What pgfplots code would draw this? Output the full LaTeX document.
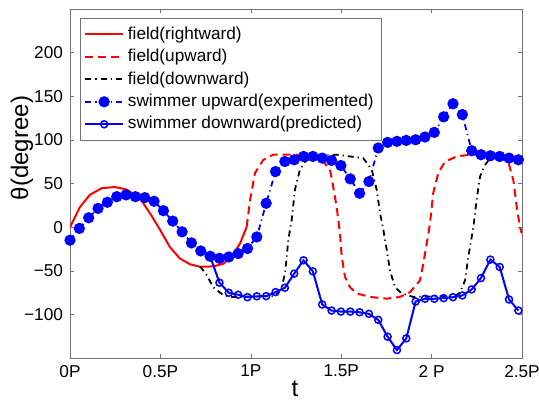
\documentclass[border=0pt]{standalone}
\usepackage{fontspec}
\setmainfont{Liberation Sans}
\usepackage{pgfplots}
\usepackage{pgfplotstable}
\pgfplotsset{compat=1.18}

% swimmer, experimented (upward field)
\pgfplotstableread{
t      v
0      -15
0.0517 -1.5
0.1033 10.7
0.155  21.5
0.2067 28.5
0.2583 34.9
0.31   36.9
0.3617 34.9
0.4133 33.8
0.465  29.6
0.5167 18.8
0.5683 6.9
0.62   -5.4
0.6717 -18.1
0.7233 -27.3
0.775  -33.4
0.8267 -35.7
0.8783 -34.2
0.93   -30.3
0.9817 -24.5
1.0333 -11.2
1.085  27.3
1.1367 63.7
1.1883 75.2
1.24   77.2
1.2917 81
1.3433 81
1.395  79.1
1.4467 76.4
1.4983 70.6
1.55   55.3
1.6017 38.8
1.6533 52.2
1.705  90.7
1.7567 97.1
1.8083 98.3
1.86   99.4
1.9117 100.1
1.9633 103.3
2.015  108.6
2.0667 126.4
2.1183 141.4
2.17   129
2.2217 87.6
2.2733 83
2.325  81.8
2.3767 81
2.4283 79.1
2.48   77.2
}\swimup

% swimmer, predicted (downward field)
\pgfplotstableread{
t      v
0.775  -33.4
0.8267 -63.7
0.8783 -75.2
0.93   -77.5
0.9817 -80.3
1.0333 -79.3
1.085  -79.1
1.1367 -74.5
1.1883 -69.5
1.24   -53.3
1.2917 -38
1.3433 -50.7
1.395  -88.7
1.4467 -95.6
1.4983 -96.8
1.55   -96.8
1.6017 -97.6
1.6533 -99.4
1.705  -106.3
1.7567 -125.6
1.8083 -140.9
1.86   -127.5
1.9117 -85.3
1.9633 -82.1
2.015  -82.1
2.0667 -81.4
2.1183 -80.3
2.17   -78.3
2.2217 -71.4
2.2733 -58.4
2.325  -37.2
2.3767 -45.7
2.4283 -82.9
2.48   -95.6
}\swimdown

\begin{document}
\begin{tikzpicture}
\begin{axis}[
    at={(0,0)}, anchor=south west,
    scale only axis,
    width=226pt, height=174.5pt,
    xmin=0, xmax=2.5, ymin=-150, ymax=250,
    xtick={0,0.5,1,1.5,2,2.5},
    xticklabels={0P,0.5P,1P,1.5P,2 P,2.5P},
    ytick={-100,-50,0,50,100,150,200},
    yticklabels={−100,−50,0,50,100,150,200},
    tick label style={font=\fontsize{8.6}{10}\selectfont},
    axis line style={black!55},
    tick style={black!55},
    major tick length=2.2pt,
    legend style={at={(0.0221,0.9734)}, anchor=north west,
        font=\fontsize{8.6}{10}\selectfont, draw=black!55,
        row sep=-0.5pt, inner sep=2pt},
    legend cell align=left,
    legend image code/.code={\draw[mark repeat=2,mark phase=2]
        plot coordinates {(0cm,0cm)(0.33cm,0cm)(0.66cm,0cm)};},
]
\addplot[red, line width=1pt] coordinates {
  (0,0) (0.055,23) (0.11,37) (0.175,44.6) (0.249,46) (0.313,43)
  (0.387,33) (0.442,16) (0.498,-3) (0.553,-23) (0.608,-36) (0.664,-42.6)
  (0.719,-45.5) (0.793,-45) (0.848,-42) (0.894,-34) (0.94,-19) (0.977,0)
};
\addlegendentry{field(rightward)}

\addplot[red, line width=1pt, dash pattern=on 4pt off 2.5pt] coordinates {
  (0.977,0) (0.996,31) (1.023,62) (1.069,77) (1.124,83) (1.254,83)
  (1.401,75) (1.438,66) (1.456,46) (1.475,23) (1.493,-7) (1.503,-34)
  (1.521,-57) (1.549,-69) (1.586,-76) (1.659,-80) (1.752,-82) (1.825,-80)
  (1.881,-74.5) (1.936,-61) (1.954,-42) (1.973,-19) (1.991,4) (2.009,39)
  (2.037,62) (2.074,75) (2.139,81) (2.212,83) (2.36,83) (2.424,75)
  (2.452,54) (2.471,23) (2.489,0) (2.498,-7)
};
\addlegendentry{field(upward)}

\addplot[black, line width=0.9pt, dash pattern=on 3pt off 2pt on 0.6pt off 2pt] coordinates {
  (0.719,-45) (0.756,-55) (0.793,-69) (0.848,-78) (0.894,-80) (1.134,-79)
  (1.171,-69) (1.189,-53) (1.199,-34) (1.207,-15) (1.226,8) (1.244,43)
  (1.272,66) (1.3,75) (1.346,81) (1.475,83) (1.622,79) (1.669,66)
  (1.696,43) (1.715,16) (1.733,-3) (1.752,-26) (1.77,-50) (1.798,-69)
  (1.835,-76) (1.899,-80) (2.13,-79) (2.157,-75) (2.185,-61) (2.203,-34)
  (2.222,-11) (2.231,0) (2.249,31) (2.268,58) (2.295,71) (2.323,79)
  (2.5,81)
};
\addlegendentry{field(downward)}

\addplot[blue, line width=0.9pt, dash pattern=on 3pt off 2pt on 0.6pt off 2pt,
  mark=*, mark size=2.35pt, mark options={solid}] table[x=t, y=v] {\swimup};
\addlegendentry{swimmer upward(experimented)}

\addplot[blue, line width=1pt, mark=o, mark size=1.75pt,
  mark options={solid, line width=0.75pt}] table[x=t, y=v] {\swimdown};
\addlegendentry{swimmer downward(predicted)}
\end{axis}
\node[rotate=90, font=\fontsize{12}{14}\selectfont] at (-24pt,105pt) {θ(degree)};
\node[anchor=base, font=\fontsize{12}{14}\selectfont] at (112.5pt,-19pt) {t};
\pgfresetboundingbox
\path (-35pt,-21.5pt) rectangle (234.5pt,179pt);
\end{tikzpicture}
\end{document}
